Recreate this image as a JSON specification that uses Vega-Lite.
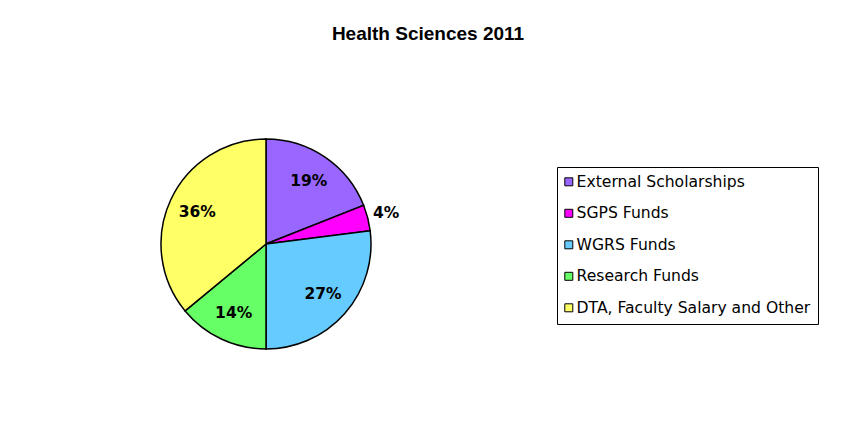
{
  "$schema": "https://vega.github.io/schema/vega-lite/v6.json",
  "width": 210,
  "height": 210,
  "autosize": {"type": "none"},
  "padding": {"left": 161, "top": 139, "right": 476, "bottom": 77},
  "background": "white",
  "title": {
    "text": "Health Sciences 2011",
    "font": "Liberation Sans",
    "fontSize": 19,
    "fontWeight": "bold",
    "color": "black",
    "anchor": "middle",
    "dx": 162,
    "offset": 90
  },
  "data": {
    "values": [
      {"idx": 1, "category": "External Scholarships", "share": 0.19},
      {"idx": 2, "category": "SGPS Funds", "share": 0.04},
      {"idx": 3, "category": "WGRS Funds", "share": 0.27},
      {"idx": 4, "category": "Research Funds", "share": 0.14},
      {"idx": 5, "category": "DTA, Faculty Salary and Other", "share": 0.36}
    ]
  },
  "encoding": {
    "theta": {"field": "share", "type": "quantitative", "stack": true},
    "order": {"field": "idx", "type": "ordinal"}
  },
  "layer": [
    {
      "mark": {"type": "arc", "radius": 105, "stroke": "black", "strokeWidth": 1.5},
      "encoding": {
        "color": {
          "field": "category",
          "type": "nominal",
          "sort": ["External Scholarships", "SGPS Funds", "WGRS Funds", "Research Funds", "DTA, Faculty Salary and Other"],
          "scale": {
            "domain": ["External Scholarships", "SGPS Funds", "WGRS Funds", "Research Funds", "DTA, Faculty Salary and Other"],
            "range": ["#9966FF", "#FF00FF", "#66CCFF", "#66FF66", "#FFFF66"]
          },
          "legend": {
            "title": null,
            "orient": "none",
            "legendX": 396,
            "legendY": 28,
            "symbolType": "square",
            "symbolSize": 64,
            "symbolStrokeColor": "black",
            "symbolStrokeWidth": 1,
            "symbolOffset": -3,
            "labelFont": "DejaVu Sans",
            "labelFontSize": 15.6,
            "labelColor": "black",
            "labelOffset": 0,
            "labelLimit": 400,
            "rowPadding": 14.5,
            "padding": 7,
            "strokeColor": "black",
            "fillColor": "white"
          }
        }
      }
    },
    {
      "mark": {"type": "text", "radius": 76, "font": "DejaVu Sans", "fontSize": 15.5, "fontWeight": "bold", "color": "black"},
      "encoding": {
        "text": {"condition": {"test": "datum.share >= 0.1", "field": "share", "type": "quantitative", "format": ".0%"}, "value": ""},
        "detail": {"field": "category"}
      }
    },
    {
      "mark": {"type": "text", "radius": 124, "font": "DejaVu Sans", "fontSize": 15.5, "fontWeight": "bold", "color": "black"},
      "encoding": {
        "text": {"condition": {"test": "datum.share < 0.1", "field": "share", "type": "quantitative", "format": ".0%"}, "value": ""},
        "detail": {"field": "category"}
      }
    }
  ]
}
